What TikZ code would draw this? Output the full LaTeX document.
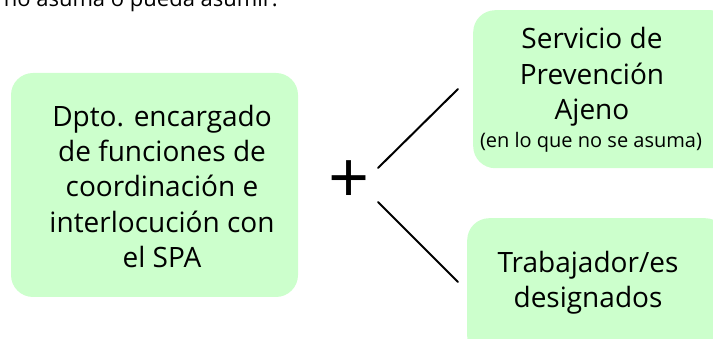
\documentclass[tikz,border=0pt]{standalone}
\usepackage{fontspec}
\setmainfont{Open Sans}
\definecolor{boxgreen}{HTML}{CCFFCC}
\tikzset{
  gbox/.style={fill=boxgreen, draw=none, rounded corners=22pt, inner sep=0pt},
  btext/.style={align=center, font=\fontsize{28}{35.5}\selectfont, inner sep=0pt, anchor=base},
  conn/.style={line width=2pt, line cap=round}
}
\begin{document}
\begin{tikzpicture}[x=1pt,y=-1pt]
\useasboundingbox (0,0) rectangle (713,339);
\clip (0,0) rectangle (713,339);
% top cut-off text
\node[anchor=base east, inner sep=0pt, font=\fontsize{22}{26}\selectfont] (top) at (278,7) {que no asuma o pueda asumir:};
% boxes
\node[gbox, minimum width=287pt, minimum height=224pt] (left) at (154.5,185) {};
\node[gbox, minimum width=260pt, minimum height=158pt, anchor=north west] (spa) at (473,10) {};
\node[gbox, minimum width=260pt, minimum height=140pt, anchor=north west] (trab) at (467,218) {};
% texts
\node[btext] (lefttext) at (162,268) {Dpto. encargado\\de funciones de\\coordinación e\\interlocución con\\el SPA};
\node[btext] (spatext) at (592,120) {Servicio de\\Prevención\\Ajeno};
\node[anchor=base, inner sep=0pt, font=\fontsize{20}{22}\selectfont] (spanote) at (591,148) {(en lo que no se asuma)};
\node[btext] (trabtext) at (588,308) {Trabajador/es\\designados};
% plus
\node[inner sep=0pt, font=\fontsize{72}{72}\selectfont] (plus) at (349,182) {+};
% connectors
\coordinate (u1) at (378,168);
\coordinate (u2) at (458,89);
\coordinate (d1) at (378,202);
\coordinate (d2) at (458,282);
\draw[conn] (u1) -- (u2);
\draw[conn] (d1) -- (d2);
\end{tikzpicture}
\end{document}
